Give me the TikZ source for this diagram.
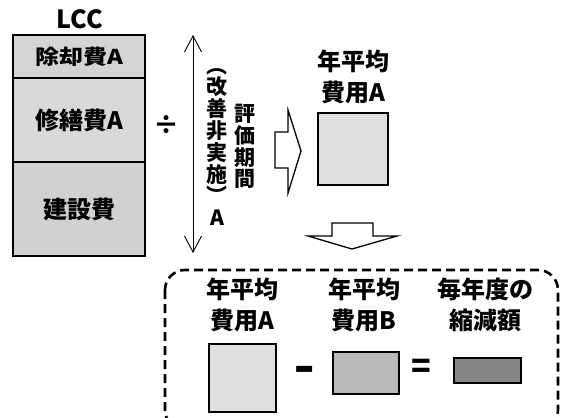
\documentclass[tikz,border=0pt]{standalone}
\usepackage{fontspec}
\setmainfont{Noto Sans CJK JP}[BoldFont={Noto Sans CJK JP Black}]
\usetikzlibrary{arrows.meta}

\begin{document}
\begin{tikzpicture}[
  x=1pt,y=-1pt,
  thick,
  cell/.style={draw,line width=1.3pt,fill=#1,minimum width=132pt,inner sep=0pt,font=\fontsize{24}{26}\selectfont\bfseries},
  lbl/.style={align=center,inner sep=0pt,font=\fontsize{24}{31}\selectfont\bfseries},
  vlbl/.style={align=center,inner sep=0pt,font=\fontsize{21}{21.8}\selectfont\bfseries},
  sq/.style={draw,line width=1.3pt,fill=#1,inner sep=0pt},
  hollow/.style={draw,line width=1.3pt,fill=white,line join=miter}
]
  \useasboundingbox[fill=white] (0,0) rectangle (561,417);
  \clip (0,0) rectangle (561,417);

  \node[lbl,font=\fontsize{25}{28}\selectfont\bfseries] (lcc) at (80,19) {LCC};
  \node[cell=black!17,minimum height=43pt] (c1) at (79,56.5) {\scalebox{1}[0.85]{除却費A}};
  \node[cell=black!15,minimum height=84pt] (c2) at (79,120) {修繕費A};
  \node[cell=black!18,minimum height=94pt] (c3) at (79,209) {建設費};
  \node[lbl,font=\fontsize{26}{28}\selectfont\bfseries] (div) at (166,125) {÷};

  \coordinate (ptop) at (193,35);
  \coordinate (pbot) at (193,253);
  \draw[line width=0.9pt,{Straight Barb[length=16pt,width=17pt]}-{Straight Barb[length=16pt,width=17pt]}] (ptop) -- (pbot);
  \node[vlbl] (kaizen) at (217,147) {︵\\改\\善\\非\\実\\施\\︶\\A};
  \node[vlbl] (kikan) at (245,146.5) {評\\価\\期\\間};

  \draw[hollow] (275,132) -- (288,132) -- (288,110) -- (301,151) -- (288,193) -- (288,168) -- (275,168) -- cycle;

  \node[lbl] (avgA) at (353,77) {年平均\\費用A};
  \node[sq=black!12,minimum width=70pt,minimum height=72pt] (boxA) at (353,149) {};

  \draw[hollow] (332,223) -- (373,223) -- (373,236) -- (397,236) -- (352,249) -- (308,236) -- (332,236) -- cycle;

  \draw[line width=2.6pt,dash pattern=on 9pt off 5pt,rounded corners=20pt] (165,270) rectangle (558,430);

  \node[lbl] (avgA2) at (242.5,305) {年平均\\費用A};
  \node[lbl] (avgB) at (364,305) {年平均\\費用B};
  \node[lbl] (diff) at (485,305) {毎年度の\\縮減額};
  \node[sq=black!12,minimum width=67pt,minimum height=68pt] (sqA) at (242.5,378) {};
  \node[lbl] (minus) at (305,377) {\scalebox{1.25}[2]{−}};
  \node[sq=black!27,minimum width=66pt,minimum height=42pt] (sqB) at (366,373) {};
  \node[lbl] (eq) at (421,369) {\scalebox{1.35}[1.4]{=}};
  \node[sq=black!48,minimum width=67pt,minimum height=25pt] (sqC) at (487.5,370.5) {};
\end{tikzpicture}
\end{document}
